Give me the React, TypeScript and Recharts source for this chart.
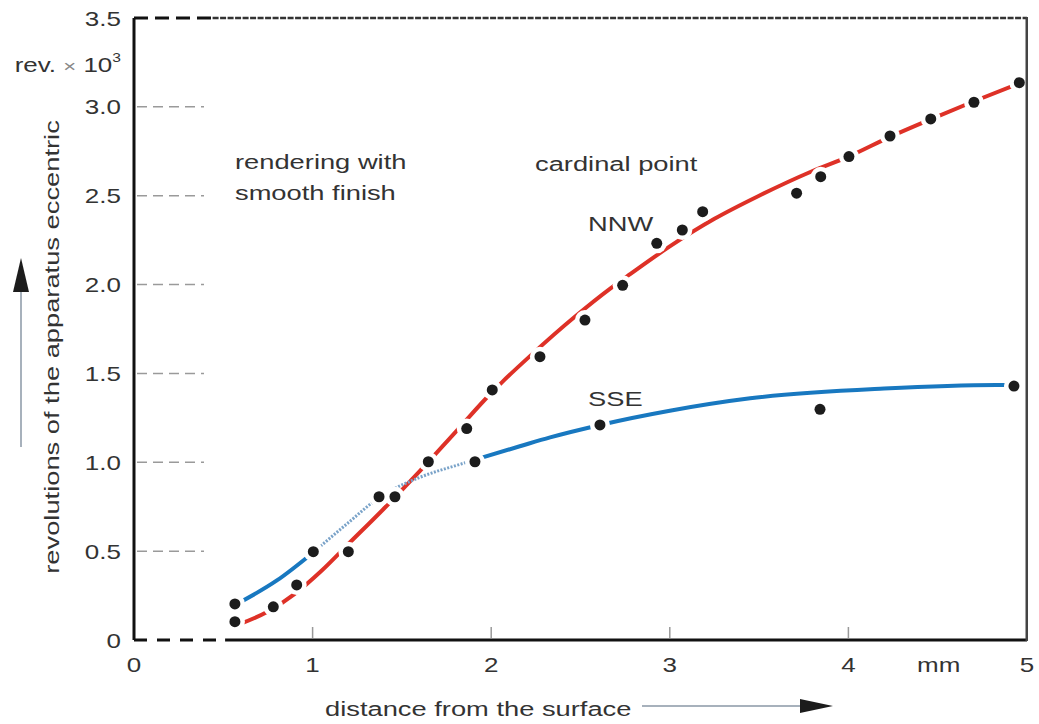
import {
  ComposedChart, Line, ReferenceLine, Scatter, XAxis, YAxis,
} from 'recharts';

// distance from the surface (mm) / revolutions (x 10^3)
const NNW_CURVE_X = [0.58, 0.75, 0.9, 1.05, 1.2, 1.4, 1.6, 1.8, 2.0, 2.06, 2.22, 2.47, 2.67, 2.78, 3.0, 3.25, 3.5, 3.79, 4.0, 4.23, 4.46, 4.7, 4.95];
const NNW_CURVE_Y = [0.085, 0.16, 0.26, 0.39, 0.54, 0.74, 0.95, 1.17, 1.39, 1.45, 1.6, 1.82, 1.98, 2.06, 2.215, 2.37, 2.5, 2.635, 2.72, 2.83, 2.93, 3.03, 3.13];

// SSE curve: solid, dotted (smooth finish), solid
const SSE_A_X = [0.57, 0.8, 1.0];
const SSE_A_Y = [0.2, 0.335, 0.49];
const SSE_B_X = [1.0, 1.2, 1.37, 1.6, 1.83, 1.91];
const SSE_B_Y = [0.49, 0.66, 0.8, 0.915, 0.99, 1.015];
const SSE_C_X = [1.91, 2.16, 2.33, 2.61, 3.0, 3.45, 4.2, 4.83, 4.92];
const SSE_C_Y = [1.015, 1.09, 1.14, 1.21, 1.29, 1.36, 1.415, 1.435, 1.435];

const NNW_DOT_X = [0.565, 0.78, 0.911, 1.2, 1.461, 1.648, 1.863, 2.006, 2.273, 2.525, 2.736, 2.927, 3.07, 3.184, 3.71, 3.845, 4.003, 4.233, 4.461, 4.703, 4.957];
const NNW_DOT_Y = [0.103, 0.187, 0.31, 0.497, 0.806, 1.003, 1.19, 1.407, 1.594, 1.8, 1.996, 2.232, 2.307, 2.41, 2.514, 2.607, 2.72, 2.836, 2.932, 3.026, 3.136];
const SSE_DOT_X = [0.565, 1.004, 1.372, 1.909, 2.609, 3.841, 4.927];
const SSE_DOT_Y = [0.203, 0.497, 0.806, 1.003, 1.21, 1.298, 1.429];

const X_TICKS = [0, 1, 2, 3, 4, 5];
const Y_TICKS = [0, 0.5, 1, 1.5, 2, 2.5, 3, 3.5];

const pts = (xs: number[], ys: number[]) => xs.map((x, i) => ({ x, y: ys[i] }));

const FONT = '"Liberation Sans", Arial, sans-serif';
const INK = '#333';
const RED = '#de3127';
const BLUE = '#1878c0';

// the original lettering is stretched horizontally
function SText({ x, y, anchor = 'start', size = 21, rotate = 0, fill = INK, children }: any) {
  return (
    <text
      transform={`translate(${x} ${y}) rotate(${rotate}) scale(1.3 1)`}
      textAnchor={anchor}
      fontSize={size}
      fontFamily={FONT}
      fill={fill}
    >
      {children}
    </text>
  );
}

function YTick({ x, y, payload }: any) {
  const v = payload.value;
  const showDash = v > 0 && v < 3.5;
  return (
    <g>
      <SText x={x - 13} y={y + 7.5} anchor="end" size={20}>{v === 0 ? '0' : v.toFixed(1)}</SText>
      {showDash && <line x1={x + 3} x2={x + 70} y1={y} y2={y} stroke="#9a9a9a" strokeWidth={1.5} strokeDasharray="10 6" />}
    </g>
  );
}

function XTick({ x, y, payload }: any) {
  const v = payload.value;
  return (
    <g>
      <SText x={x} y={y + 32} anchor="middle" size={20}>{String(v)}</SText>
      {v > 0 && v < 5 && <line x1={x} x2={x} y1={y - 13} y2={y - 2} stroke="#999" strokeWidth={1.5} />}
    </g>
  );
}

const halo = (p: any) => <circle cx={p.cx} cy={p.cy} r={10} fill="#fff" />;
const dot = (p: any) => <circle cx={p.cx} cy={p.cy} r={5.5} fill="#1c1c1c" />;

export default function App() {
  const nnwDots = pts(NNW_DOT_X, NNW_DOT_Y);
  const sseDots = pts(SSE_DOT_X, SSE_DOT_Y);
  return (
    <div style={{ position: 'fixed', left: 0, top: 0, width: 1039, height: 724, background: '#fff', overflow: 'hidden' }}>
      <style>{'html, body { margin: 0; overflow: hidden; }'}</style>
      <ComposedChart width={1039} height={724} margin={{ top: 18, right: 12, bottom: 0, left: 0 }}>
        <XAxis
          type="number" dataKey="x" domain={[0, 5]} ticks={X_TICKS} height={84}
          axisLine={false} tickLine={false} tickSize={0} tickMargin={0} tick={<XTick />}
        />
        <YAxis
          type="number" dataKey="y" domain={[0, 3.5]} ticks={Y_TICKS} width={134}
          axisLine={{ stroke: '#111', strokeWidth: 3 }} tickLine={false} tickSize={0} tickMargin={0} tick={<YTick />}
        />

        <Line data={pts(NNW_CURVE_X, NNW_CURVE_Y)} dataKey="y" type="monotone" stroke={RED} strokeWidth={4} dot={false} activeDot={false} isAnimationActive={false} />
        <Line data={pts(SSE_A_X, SSE_A_Y)} dataKey="y" type="monotone" stroke={BLUE} strokeWidth={4} dot={false} activeDot={false} isAnimationActive={false} />
        <Line data={pts(SSE_B_X, SSE_B_Y)} dataKey="y" type="monotone" stroke="#7aa3c9" strokeWidth={3} strokeDasharray="2 1.5" dot={false} activeDot={false} isAnimationActive={false} />
        <Line data={pts(SSE_C_X, SSE_C_Y)} dataKey="y" type="monotone" stroke={BLUE} strokeWidth={4} dot={false} activeDot={false} isAnimationActive={false} />

        <Scatter data={nnwDots} shape={halo} isAnimationActive={false} />
        <Scatter data={sseDots} shape={halo} isAnimationActive={false} />
        <Scatter data={nnwDots} shape={dot} isAnimationActive={false} />
        <Scatter data={sseDots} shape={dot} isAnimationActive={false} />

        <ReferenceLine segment={[{ x: 0, y: 3.5 }, { x: 0.44, y: 3.5 }]} stroke="#111" strokeWidth={3} strokeDasharray="14 7" ifOverflow="visible" />
        <ReferenceLine segment={[{ x: 0.44, y: 3.5 }, { x: 5, y: 3.5 }]} stroke="#333" strokeWidth={2.5} strokeDasharray="6 1.5" ifOverflow="visible" />
        <ReferenceLine segment={[{ x: 0, y: 0 }, { x: 0.5, y: 0 }]} stroke="#111" strokeWidth={3} strokeDasharray="13 10" ifOverflow="visible" />
        <ReferenceLine segment={[{ x: 0.51, y: 0 }, { x: 5, y: 0 }]} stroke="#111" strokeWidth={3} ifOverflow="visible" />
      </ComposedChart>

      <svg width={1039} height={724} style={{ position: 'absolute', left: 0, top: 0, pointerEvents: 'none' }}>
        {/* right edge of the frame */}
        <rect x={1025.5} y={17} width={2.5} height={624} fill="#444" />

        <text transform="translate(121 72) scale(1.3 1)" textAnchor="end" fontSize={20} fontFamily={FONT} fill={INK}>
          rev. <tspan fill="#888" fontSize={17}>×</tspan> 10<tspan fontSize={12} dy={-10}>3</tspan>
        </text>
        <SText x={917} y={672} size={20}>mm</SText>

        <SText x={59} y={347} anchor="middle" rotate={-90}>revolutions of the apparatus eccentric</SText>
        <line x1={21} x2={21} y1={447} y2={290} stroke="#8a97a6" strokeWidth={1.5} />
        <polygon points="21,258 13,292 29,292" fill="#1c1c1c" />

        <SText x={325} y={716}>distance from the surface</SText>
        <line x1={642} x2={805} y1={706} y2={706} stroke="#8a97a6" strokeWidth={1.5} />
        <polygon points="833,706 800,699 800,713" fill="#1c1c1c" />

        <SText x={235} y={169}>rendering with</SText>
        <SText x={235} y={200}>smooth finish</SText>
        <SText x={535} y={171}>cardinal point</SText>
        <SText x={588} y={231}>NNW</SText>
        <SText x={588} y={406}>SSE</SText>
      </svg>
    </div>
  );
}
